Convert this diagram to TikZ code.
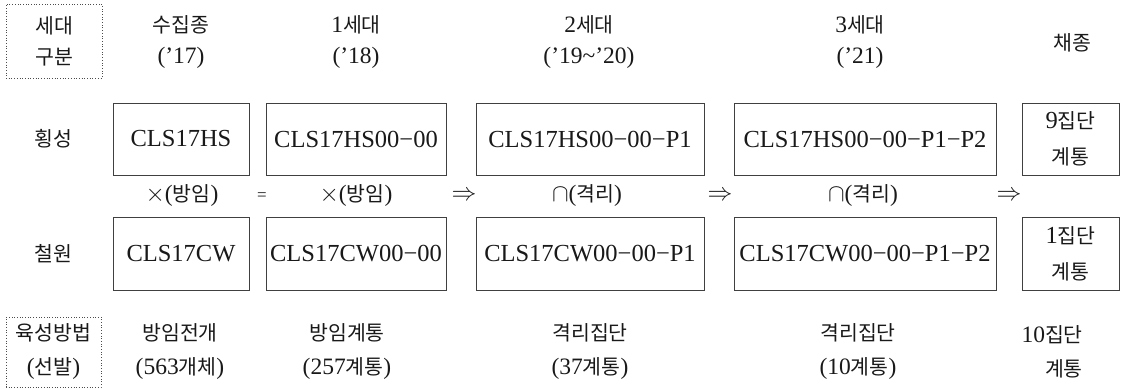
\documentclass[tikz,border=0pt]{standalone}
\usepackage{fontspec}
\setmainfont{Liberation Serif}
\newfontfamily\kr{Noto Sans CJK KR}
\newcommand{\K}[1]{{\kr\fontsize{20.5}{30}\selectfont #1}}
\newcommand{\hdf}{\fontsize{23.5}{31}\selectfont}
\newcommand{\btf}{\fontsize{23.5}{34}\selectfont}
\newcommand{\bxf}{\fontsize{24.5}{36}\selectfont}
\begin{document}
\begin{tikzpicture}[x=1pt,y=-1pt,
  every node/.style={inner sep=0pt, text=black!90},
  cbox/.style={draw=black!75, line width=0.8pt, font=\bxf, align=center},
  dbox/.style={draw=black!70, dotted, line width=0.7pt, align=center},
  hd/.style={font=\hdf, align=center},
  bt/.style={font=\btf, align=center},
  mid/.style={font=\hdf}]
\useasboundingbox (0,0) rectangle (1122,390);

% header row
\node[dbox, hd, minimum width=96pt, minimum height=74pt] (hgen) at (54,41) {\K{세대}\\\K{구분}};
\node[hd] (h0) at (181,42.5) {\K{수집종}\\(’17)};
\node[hd] (h1) at (356,42.5) {1\K{세대}\\(’18)};
\node[hd] (h2) at (589,42.5) {2\K{세대}\\(’19\textasciitilde’20)};
\node[hd] (h3) at (860,42.5) {3\K{세대}\\(’21)};
\node[hd] (h4) at (1072,43) {\K{채종}};

% row labels
\node[hd] (rHS) at (53,139) {\K{횡성}};
\node[hd] (rCW) at (53,253.5) {\K{철원}};

% upper boxes
\node[cbox, minimum width=136pt, minimum height=72pt] (u1) at (181,139) {CLS17HS};
\node[cbox, minimum width=180pt, minimum height=72pt] (u2) at (356,139) {CLS17HS00−00};
\node[cbox, minimum width=228pt, minimum height=72pt] (u3) at (590,139) {CLS17HS00−00−P1};
\node[cbox, minimum width=262pt, minimum height=72pt] (u4) at (865,139) {CLS17HS00−00−P1−P2};
\node[cbox, minimum width=97pt, minimum height=72pt] (u5) at (1070.5,139) {9\K{집단}\\\K{계통}};

% middle row
\node[mid] (m1) at (182,196) {$\times$(\K{방임})};
\node[mid, font=\fontsize{17}{18}\selectfont] (m2) at (262,197) {=};
\node[mid] (m3) at (356,196) {$\times$(\K{방임})};
\node[mid] (m4) at (464,196) {$\Rightarrow$};
\node[mid] (m5) at (587,196) {$\cap$(\K{격리})};
\node[mid] (m6) at (720,196) {$\Rightarrow$};
\node[mid] (m7) at (863,196) {$\cap$(\K{격리})};
\node[mid] (m8) at (1009,196) {$\Rightarrow$};

% lower boxes
\node[cbox, minimum width=136pt, minimum height=73pt] (l1) at (181,253.5) {CLS17CW};
\node[cbox, minimum width=180pt, minimum height=73pt] (l2) at (356,253.5) {CLS17CW00−00};
\node[cbox, minimum width=228pt, minimum height=73pt] (l3) at (590,253.5) {CLS17CW00−00−P1};
\node[cbox, minimum width=262pt, minimum height=73pt] (l4) at (865,253.5) {CLS17CW00−00−P1−P2};
\node[cbox, minimum width=97pt, minimum height=73pt] (l5) at (1070.5,253.5) {1\K{집단}\\\K{계통}};

% bottom row
\node[dbox, bt, minimum width=95pt, minimum height=70pt] (bmeth) at (53.5,352) {\K{육성방법}\\(\K{선발})};
\node[bt] (b1) at (180,352) {\K{방임전개}\\(563\K{개체})};
\node[bt] (b2) at (347,352) {\K{방임계통}\\(257\K{계통})};
\node[bt] (b3) at (590,352) {\K{격리집단}\\(37\K{계통})};
\node[bt] (b4) at (858,352) {\K{격리집단}\\(10\K{계통})};
\node[bt, align=right, anchor=east] (b5) at (1083,352) {10\K{집단}\\\K{계통}};
\end{tikzpicture}
\end{document}
